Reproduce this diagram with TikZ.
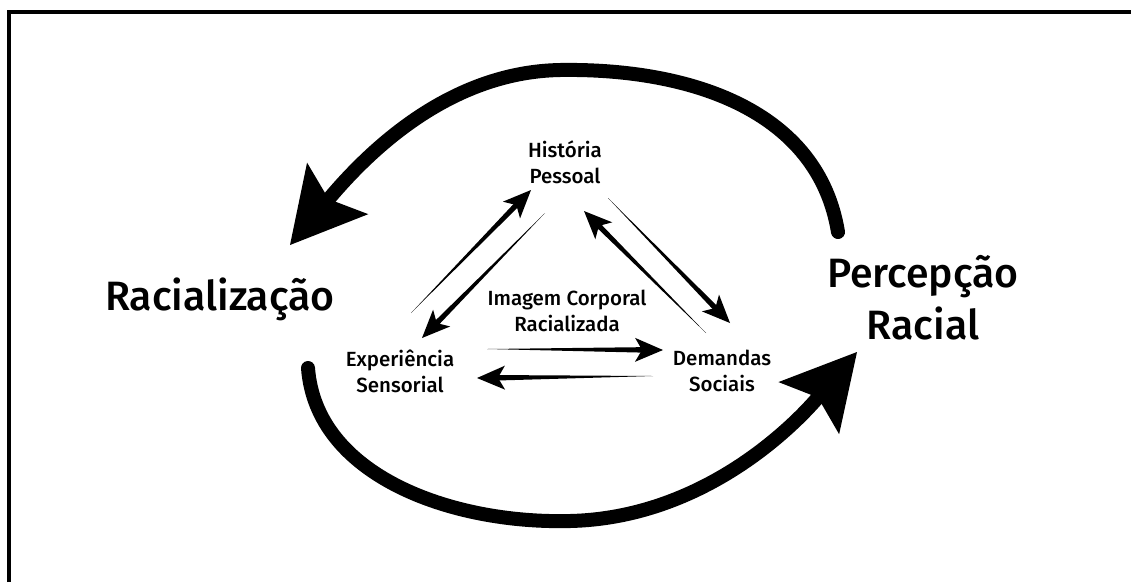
\documentclass[tikz,border=0pt]{standalone}
\usepackage{fontspec}
\setmainfont{Fira Sans Medium}
\usetikzlibrary{arrows.meta,calc}

% tapered connector: thin at the tail, head at the end
\newcommand{\taper}[2]{%
  \fill (#1) -- ($(#2)!16pt!(#1)!2.8pt!90:(#2)$) -- ($(#2)!16pt!(#1)!2.8pt!-90:(#2)$) -- cycle;
  \draw[small] ($(#2)!18pt!(#1)$) -- (#2);
}

\begin{document}
\begin{tikzpicture}[x=1pt,y=-1pt,
    big/.style={font=\fontsize{41}{52}\selectfont,align=center,inner sep=0pt},
    inner/.style={font=\fontsize{20.5}{26}\selectfont,align=center,inner sep=0pt},
    loop/.style={line width=14pt,line cap=round,-{Stealth[length=74pt,width=80pt,inset=14pt,line width=0pt]}},
    small/.style={line width=4.5pt,-{Stealth[length=28pt,width=24pt,inset=7pt,line width=0pt]}}
  ]
  \useasboundingbox (0,0) rectangle (1131,582);
  \draw[line width=4.5pt] (9,582) -- (9,12) -- (1131,12);

  \node[big,anchor=base] (rac) at (220,310) {Racialização};
  \node[big] (perc) at (923,298) {Percepção\\Racial};
  \node[inner] (hist) at (565,162) {História\\Pessoal};
  \node[inner] (img) at (567,311) {Imagem Corporal\\Racializada};
  \node[inner] (exp) at (400,371) {Experiência\\Sensorial};
  \node[inner] (dem) at (722,371) {Demandas\\Sociais};

  \coordinate (topstart) at (838,232);
  \coordinate (topend) at (290,245);
  \coordinate (botstart) at (308,368);
  \coordinate (botend) at (857,352);

  \draw[loop] (topstart) .. controls (818,110) and (690,68) .. (560,70)
    .. controls (450,72) and (370,150) .. (topend);
  \draw[loop] (botstart) .. controls (316,475) and (450,524) .. (570,521)
    .. controls (700,518) and (790,430) .. (botend);

  \coordinate (eh1) at (411,313);  \coordinate (eh2) at (531,190);
  \coordinate (he1) at (545,213);  \coordinate (he2) at (422,338);
  \coordinate (dh1) at (706,333);  \coordinate (dh2) at (584,211);
  \coordinate (hd1) at (608,198);  \coordinate (hd2) at (730,323);
  \coordinate (ed1) at (487,349);  \coordinate (ed2) at (663,350);
  \coordinate (de1) at (653,376);  \coordinate (de2) at (477,378);

  \taper{eh1}{eh2}
  \taper{he1}{he2}
  \taper{dh1}{dh2}
  \taper{hd1}{hd2}
  \taper{ed1}{ed2}
  \taper{de1}{de2}
\end{tikzpicture}
\end{document}
